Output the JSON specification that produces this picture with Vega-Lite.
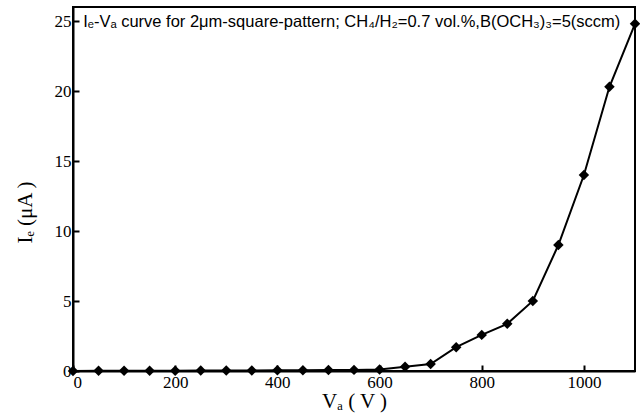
{
  "$schema": "https://vega.github.io/schema/vega-lite/v6.json",
  "autosize": "none",
  "width": 562,
  "height": 364,
  "padding": {"left": 73, "top": 7, "right": 5, "bottom": 44},
  "background": "white",
  "config": {
    "view": {"stroke": "black", "strokeWidth": 2},
    "axis": {
      "grid": false,
      "domainColor": "black",
      "domainWidth": 2,
      "tickColor": "black",
      "tickWidth": 2,
      "tickSize": -6,
      "labelFont": "Liberation Serif",
      "labelFontSize": 17,
      "labelColor": "black",
      "titleFont": "Liberation Serif",
      "titleFontSize": 21,
      "titleFontWeight": "normal",
      "titleColor": "black"
    }
  },
  "data": {
    "values": [
      {"V": 0, "I": 0.0},
      {"V": 50, "I": 0.01},
      {"V": 100, "I": 0.01},
      {"V": 150, "I": 0.02},
      {"V": 200, "I": 0.02},
      {"V": 250, "I": 0.03},
      {"V": 300, "I": 0.03},
      {"V": 350, "I": 0.04},
      {"V": 400, "I": 0.05},
      {"V": 450, "I": 0.06},
      {"V": 500, "I": 0.07},
      {"V": 550, "I": 0.08},
      {"V": 600, "I": 0.1},
      {"V": 650, "I": 0.3},
      {"V": 700, "I": 0.5},
      {"V": 750, "I": 1.7},
      {"V": 800, "I": 2.58},
      {"V": 850, "I": 3.37},
      {"V": 900, "I": 5.0},
      {"V": 950, "I": 9.0},
      {"V": 1000, "I": 14.0},
      {"V": 1050, "I": 20.3},
      {"V": 1100, "I": 24.8}
    ]
  },
  "layer": [
    {
      "mark": {
        "type": "line",
        "color": "black",
        "strokeWidth": 2,
        "point": {"shape": "diamond", "size": 110, "filled": true, "color": "black", "opacity": 1}
      },
      "encoding": {
        "x": {
          "field": "V",
          "type": "quantitative",
          "scale": {"domain": [0, 1100], "nice": false, "zero": false},
          "axis": {"values": [0, 200, 400, 600, 800, 1000], "format": "d", "labelPadding": 9, "title": "Vₐ ( V )", "titleBaseline": "alphabetic", "titleY": 36}
        },
        "y": {
          "field": "I",
          "type": "quantitative",
          "scale": {"domain": [0, 26], "nice": false},
          "axis": {"values": [0, 5, 10, 15, 20, 25], "labelPadding": 8, "title": "Iₑ (μA )", "titleX": -48, "titleY": 205, "titleBaseline": "middle"}
        }
      }
    },
    {
      "data": {"values": [{"label": "Iₑ-Vₐ curve for 2μm-square-pattern; CH₄/H₂=0.7 vol.%,B(OCH₃)₃=5(sccm)"}]},
      "mark": {
        "type": "text",
        "align": "left",
        "baseline": "alphabetic",
        "font": "Liberation Sans",
        "fontSize": 16.5,
        "color": "black"
      },
      "encoding": {
        "text": {"field": "label"},
        "x": {"datum": 20},
        "y": {"datum": 24.57}
      }
    }
  ]
}
